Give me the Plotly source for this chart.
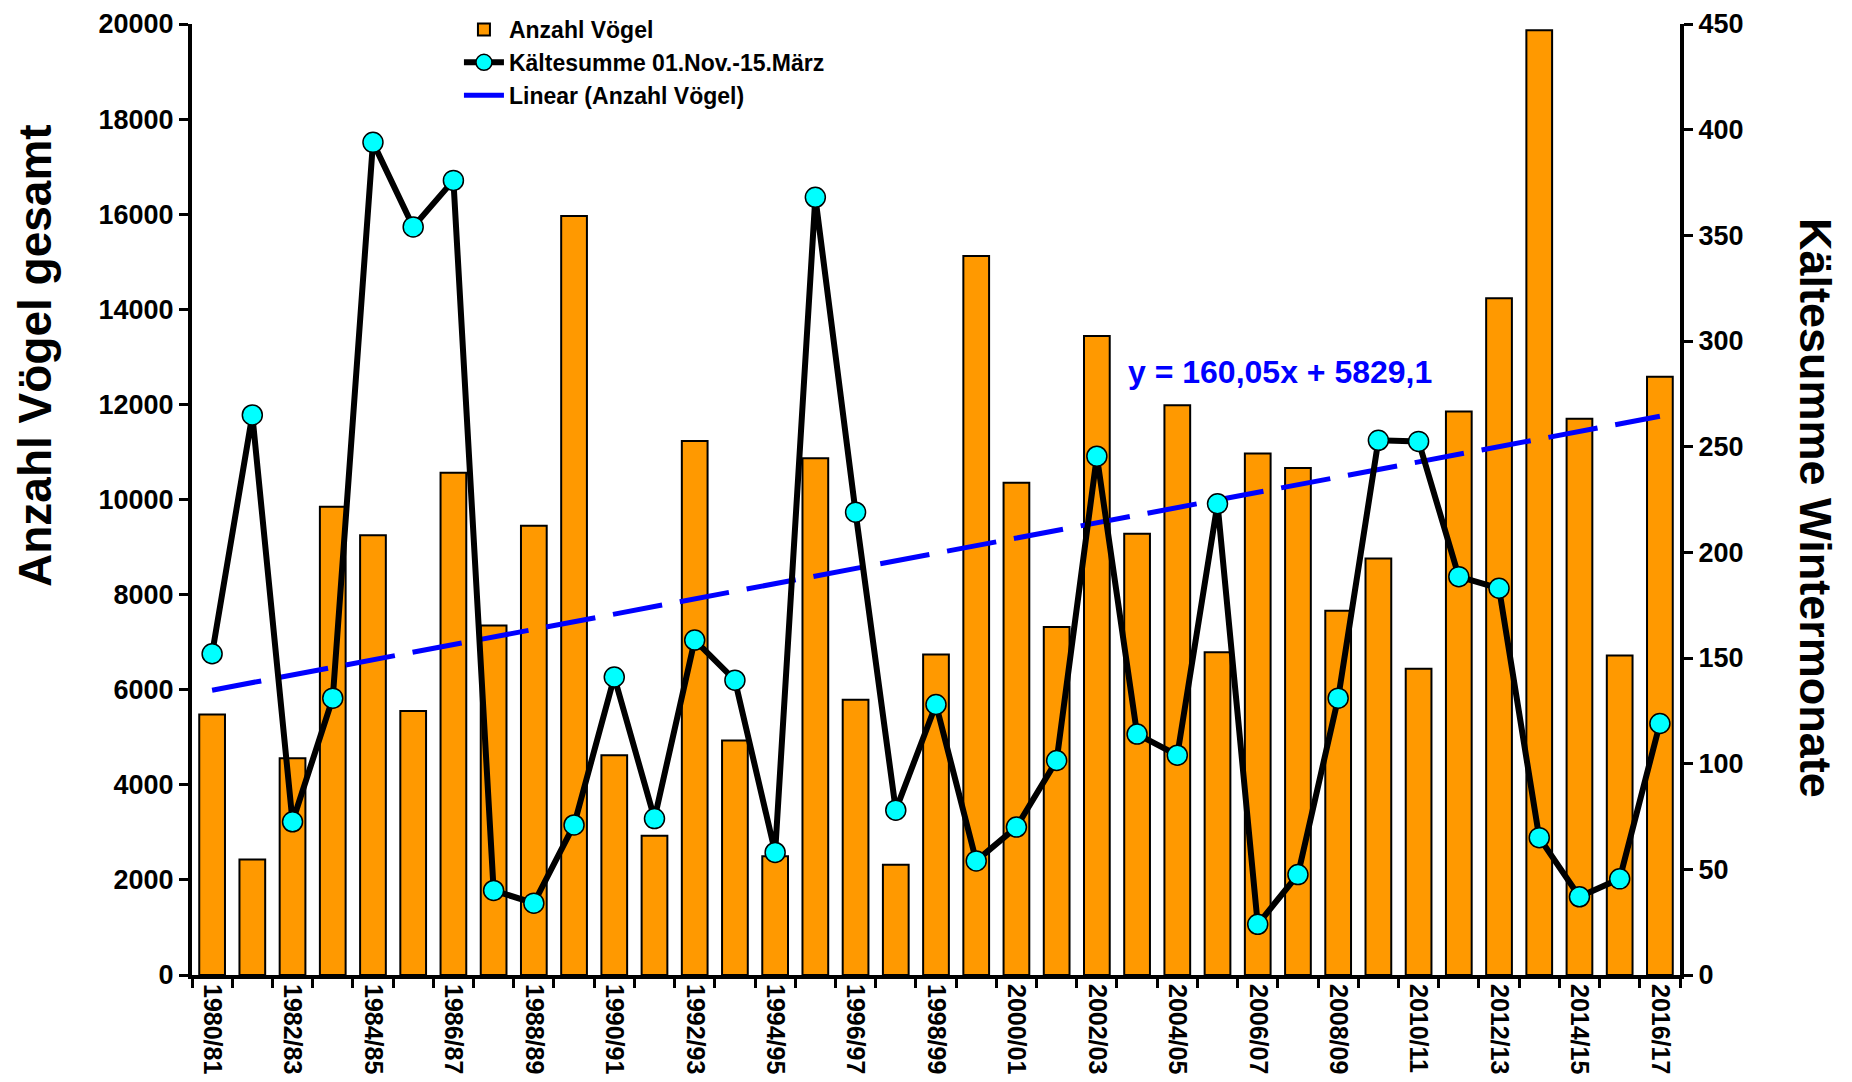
import plotly.graph_objects as go

seasons = ["1980/81", "1981/82", "1982/83", "1983/84", "1984/85", "1985/86", "1986/87",
           "1987/88", "1988/89", "1989/90", "1990/91", "1991/92", "1992/93", "1993/94",
           "1994/95", "1995/96", "1996/97", "1997/98", "1998/99", "1999/00", "2000/01",
           "2001/02", "2002/03", "2003/04", "2004/05", "2005/06", "2006/07", "2007/08",
           "2008/09", "2009/10", "2010/11", "2011/12", "2012/13", "2013/14", "2014/15",
           "2015/16", "2016/17"]

anzahl_voegel = [5480, 2430, 4560, 9850, 9250, 5550, 10560, 7350, 9450, 15960, 4620,
                 2930, 11230, 4930, 2500, 10870, 5790, 2320, 6740, 15120, 10350, 7320,
                 13440, 9280, 11980, 6790, 10970, 10660, 7660, 8760, 6440, 11850, 14230,
                 19870, 11700, 6720, 12580]

kaeltesumme = [152, 265, 72.5, 131, 394, 354, 376, 40, 34, 71, 141, 74, 158.5, 139.5,
               58, 368, 219, 78, 128, 54, 70, 101.5, 245.5, 114, 104, 223, 24, 47.5,
               131, 253, 252.5, 188.5, 183, 65, 37, 45.5, 119]

trend_slope = 160.05
trend_intercept = 5829.1
equation_text = "y = 160,05x + 5829,1"

FONT = "Liberation Sans, Arial, sans-serif"
idx = list(range(len(seasons)))
trend = [trend_slope * (i + 1) + trend_intercept for i in idx]

PH = 951  # plot height in px

fig = go.Figure()
fig.add_trace(go.Bar(
    x=idx, y=anzahl_voegel, name="Anzahl Vögel",
    marker=dict(color="#FF9900", line=dict(color="black", width=2)),
    yaxis="y",
))
fig.add_trace(go.Scatter(
    x=idx, y=kaeltesumme, name="Kältesumme 01.Nov.-15.März",
    mode="lines+markers", yaxis="y2",
    line=dict(color="black", width=6),
    marker=dict(color="#00FFFF", size=20, line=dict(color="black", width=1.5)),
))
fig.add_trace(go.Scatter(
    x=idx, y=trend, name="Linear (Anzahl Vögel)",
    mode="lines", yaxis="y",
    line=dict(color="#0000FF", width=5, dash="50px,18px"),
))

fig.update_layout(
    width=1836, height=1066,
    margin=dict(l=184, r=164, t=16, b=99, autoexpand=False),
    paper_bgcolor="white", plot_bgcolor="white",
    font=dict(family=FONT, color="black", size=24, weight="bold"),
    bargap=0.36,
    showlegend=True,
    legend=dict(
        x=0.1794, y=1.0168, xanchor="left", yanchor="top",
        bgcolor="rgba(0,0,0,0)", traceorder="normal",
        font=dict(family=FONT, size=23, weight="bold", color="black"),
        itemwidth=40, tracegroupgap=0,
    ),
    xaxis=dict(
        range=[-0.5, len(seasons) - 0.5],
        tickmode="array",
        tickvals=idx[::2],
        ticktext=seasons[::2],
        tickangle=90,
        ticks="",
        tickfont=dict(family=FONT, size=25, weight="bold"),
        minor=dict(ticks="outside", tick0=-0.5, dtick=1, ticklen=9, tickwidth=3, tickcolor="black"),
        showline=True, linecolor="black", linewidth=4,
        showgrid=False, zeroline=False, automargin=False,
        ticklabeloverflow="allow",
    ),
    yaxis=dict(
        range=[0, 20000], dtick=2000, tickformat="d",
        ticks="outside", ticklen=9, tickwidth=3, tickcolor="black",
        tickfont=dict(family=FONT, size=27, weight="bold"),
        showline=True, linecolor="black", linewidth=4,
        showgrid=False, zeroline=False, automargin=False,
        ticklabeloverflow="allow",
    ),
    yaxis2=dict(
        range=[0, 450], dtick=50, overlaying="y", side="right", tickformat="d",
        ticks="outside", ticklen=9, tickwidth=3, tickcolor="black",
        tickfont=dict(family=FONT, size=27, weight="bold"),
        showline=True, linecolor="black", linewidth=4,
        showgrid=False, zeroline=False, automargin=False,
        ticklabeloverflow="allow",
    ),
    annotations=[
        dict(text="Anzahl Vögel gesamt", xref="paper", yref="paper",
             x=(35 - 192) / 1488, y=(975 - 356) / PH, textangle=-90, showarrow=False,
             font=dict(family=FONT, size=46, weight="bold", color="black"),
             xanchor="center", yanchor="middle"),
        dict(text="Kältesumme Wintermonate", xref="paper", yref="paper",
             x=(1815 - 192) / 1488, y=(975 - 508) / PH, textangle=90, showarrow=False,
             font=dict(family=FONT, size=45, weight="bold", color="black"),
             xanchor="center", yanchor="middle"),
        dict(text=equation_text, xref="paper", yref="paper",
             x=(1280 - 192) / 1488, y=(975 - 372) / PH, showarrow=False,
             font=dict(family=FONT, size=32, weight="bold", color="#0000FF"),
             xanchor="center", yanchor="middle"),
    ],
)

fig.write_html("out.html")
